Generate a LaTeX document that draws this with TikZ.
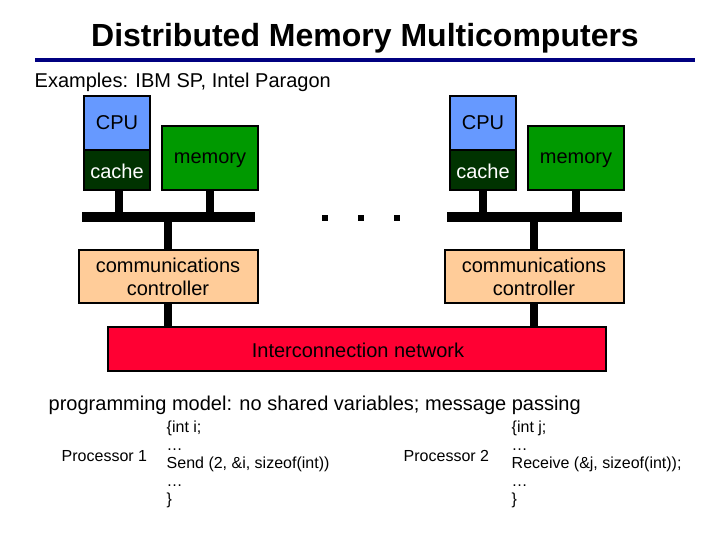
\documentclass[tikz,border=0pt]{standalone}
\usepackage{fontspec}
\setmainfont{Liberation Sans}
\definecolor{cpublue}{HTML}{6699FF}
\definecolor{cachegreen}{HTML}{003300}
\definecolor{memgreen}{HTML}{009900}
\definecolor{ctrlpeach}{HTML}{FFCC99}
\definecolor{netred}{HTML}{FF0033}
\definecolor{titlenavy}{HTML}{000080}
\tikzset{
  box/.style={draw=black, line width=1pt, inner sep=0pt},
  wire/.style={line width=6pt},
  bus/.style={line width=8pt},
  lbl/.style={font=\fontsize{15}{17}\selectfont, align=center},
  code/.style={font=\fontsize{12}{13.5}\selectfont, align=left, anchor=west}
}
\begin{document}
\begin{tikzpicture}[x=0.75pt,y=-0.75pt]
			\useasboundingbox (0,0) rectangle (720,540);
			% Titel
			\node (title) at (365,38) {\fontsize{24}{28}\selectfont\bfseries Distributed Memory Multicomputers};
			\draw [line width=3pt, titlenavy] (35,60) -- (695,60);
			\node [anchor=west, font=\fontsize{15}{17}\selectfont] (examples) at (30,82) {Examples: IBM SP, Intel Paragon};
			% Knoten links
			\draw [bus] (82,217) -- (255,217);
			\draw [wire] (119,190) -- (119,217);
			\draw [wire] (210,190) -- (210,217);
			\draw [wire] (168,217) -- (168,327);
			\filldraw [box, fill=cpublue] (84,96) rectangle (150,150);
			\node [lbl] (cpuA) at (117,123) {CPU};
			\filldraw [box, fill=cachegreen] (84,150) rectangle (150,190);
			\node [lbl, white] (cacheA) at (117,171) {cache};
			\filldraw [box, fill=memgreen] (162,126) rectangle (258,190);
			\node [lbl] (memA) at (210,160) {memory};
			\filldraw [box, fill=ctrlpeach] (79,250) rectangle (258,303);
			\node [lbl] (ctrlA) at (168,277) {communications\\controller};
			% Knoten rechts
			\draw [bus] (447,217) -- (622,217);
			\draw [wire] (483,190) -- (483,217);
			\draw [wire] (576,190) -- (576,217);
			\draw [wire] (534,217) -- (534,327);
			\filldraw [box, fill=cpublue] (450,96) rectangle (516,150);
			\node [lbl] (cpuB) at (483,123) {CPU};
			\filldraw [box, fill=cachegreen] (450,150) rectangle (516,190);
			\node [lbl, white] (cacheB) at (483,171) {cache};
			\filldraw [box, fill=memgreen] (528,126) rectangle (624,190);
			\node [lbl] (memB) at (576,160) {memory};
			\filldraw [box, fill=ctrlpeach] (445,250) rectangle (624,303);
			\node [lbl] (ctrlB) at (534,277) {communications\\controller};
			% Punkte
			\foreach \x in {325,361,397}
				\fill (\x-3,215) rectangle (\x+3,221);
			% Netzwerk
			\filldraw [box, fill=netred] (108,327) rectangle (606,371);
			\node [lbl] (net) at (358,350) {Interconnection network};
			% Programmiermodell
			\node [anchor=west, font=\fontsize{15}{17}\selectfont] (model) at (44,405) {programming model: no shared variables; message passing};
			\node [anchor=west, font=\fontsize{12}{13}\selectfont] (procA) at (57,456) {Processor 1};
			\node [code] (codeA) at (162,464) {\{int i;\\\dots\\Send (2, \&i, sizeof(int))\\\dots\\\}};
			\node [anchor=west, font=\fontsize{12}{13}\selectfont] (procB) at (399,456) {Processor 2};
			\node [code] (codeB) at (507,464) {\{int j;\\\dots\\Receive (\&j, sizeof(int));\\\dots\\\}};
			\end{tikzpicture}
\end{document}
